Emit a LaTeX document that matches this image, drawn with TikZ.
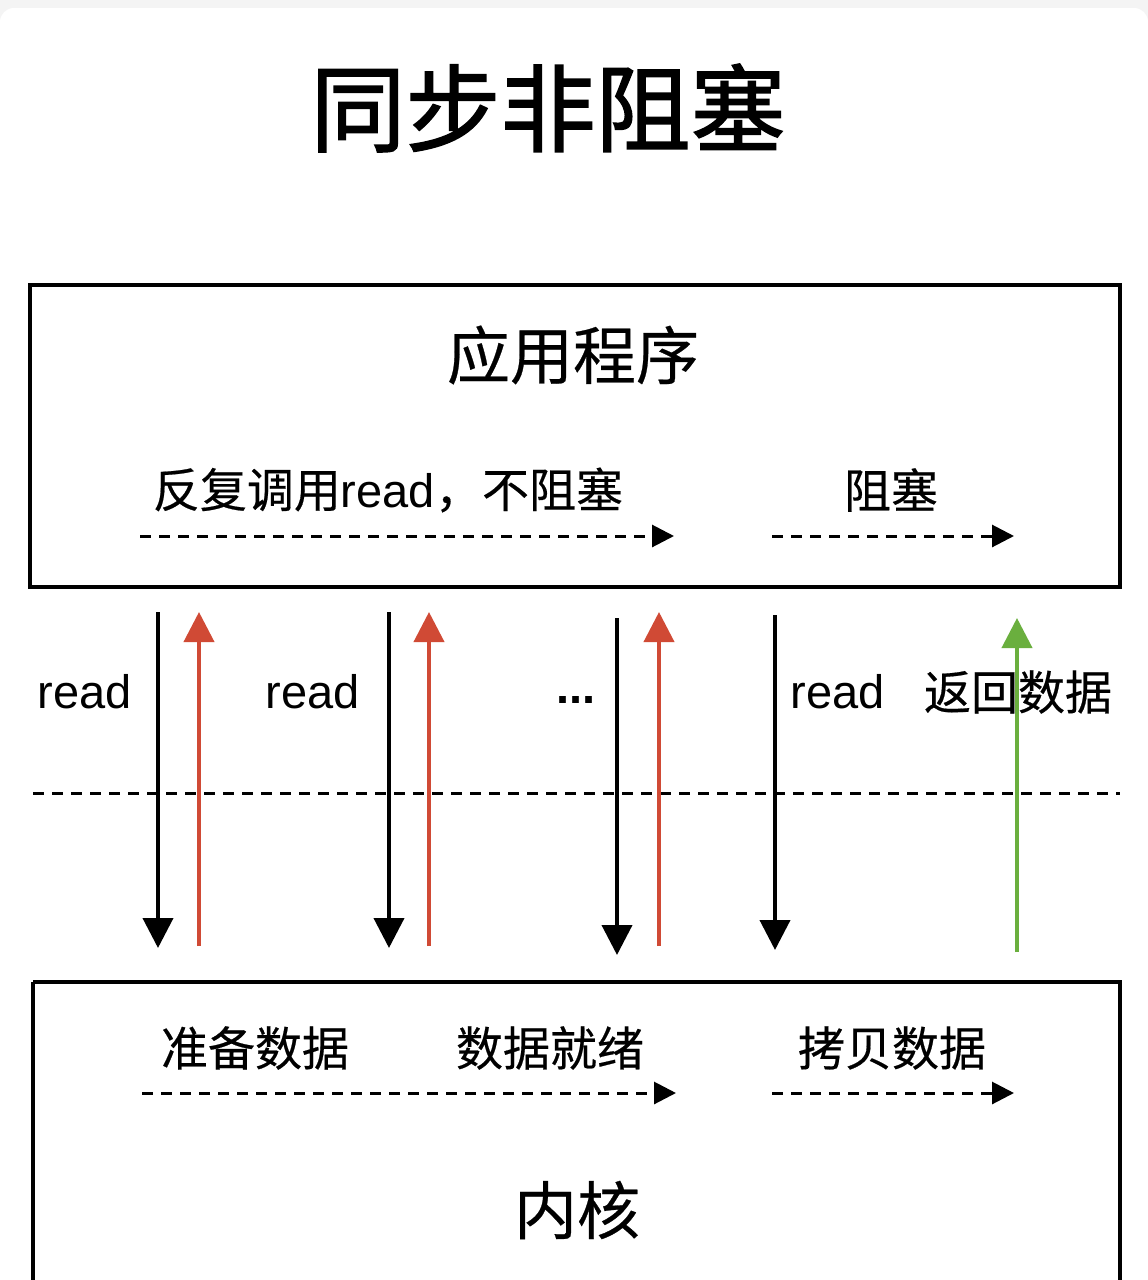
\documentclass[tikz,border=0pt]{standalone}
\usepackage{fontspec}
\setmainfont[FakeBold=0.4]{Noto Sans CJK SC}
\newfontfamily\titlefont[FakeBold=1.6]{Noto Sans CJK SC}
\newfontfamily\lat{Liberation Sans}
\usetikzlibrary{arrows.meta}
\definecolor{redarr}{HTML}{D04A35}
\definecolor{greenarr}{HTML}{6AAF3E}
\definecolor{bggray}{HTML}{F4F4F4}
\tikzset{
  frame/.style={draw=black,line width=4pt},
  lbl/.style={inner sep=0pt,anchor=center,font=\fontsize{47}{52}\selectfont},
  midlbl/.style={inner sep=0pt,anchor=center,font=\fontsize{63}{70}\selectfont},
  dashflow/.style={line width=3pt,dash pattern=on 11pt off 8pt,-{Triangle[length=22pt,width=22pt]}},
  callarr/.style={line width=4pt,-{Triangle[length=30pt,width=30pt]}},
  sepline/.style={line width=3pt,dash pattern=on 11pt off 8pt}
}
\begin{document}
\begin{tikzpicture}[x=1pt,y=-1pt]
\useasboundingbox (0,0) rectangle (1148,1280);
\fill[bggray] (0,0) rectangle (1148,1280);
\fill[white,rounded corners=14pt] (0,8) rectangle (1148,1300);
% title
\node[inner sep=0pt,font=\fontsize{95}{100}\titlefont] (title) at (548,108) {同步非阻塞};
% application box
\draw[frame] (30,285) rectangle (1120,587);
\node[midlbl] (app) at (573,355) {应用程序};
\node[lbl] (poll) at (388,490) {反复调用{\lat read}，不阻塞};
\node[lbl] (blk) at (891,490) {阻塞};
\coordinate (pa1) at (140,536); \coordinate (pa2) at (674,536);
\coordinate (pb1) at (772,536); \coordinate (pb2) at (1014,536);
\draw[dashflow] (pa1) -- (pa2);
\draw[dashflow] (pb1) -- (pb2);
% separator
\coordinate (s1) at (33,793); \coordinate (s2) at (1120,793);
\draw[sepline] (s1) -- (s2);
% vertical arrows
\coordinate (d1t) at (158,612); \coordinate (d1b) at (158,948);
\coordinate (u1b) at (199,946); \coordinate (u1t) at (199,612);
\coordinate (d2t) at (389,612); \coordinate (d2b) at (389,948);
\coordinate (u2b) at (429,946); \coordinate (u2t) at (429,612);
\coordinate (d3t) at (617,618); \coordinate (d3b) at (617,955);
\coordinate (u3b) at (659,946); \coordinate (u3t) at (659,612);
\coordinate (d4t) at (775,615); \coordinate (d4b) at (775,950);
\coordinate (u4b) at (1017,952); \coordinate (u4t) at (1017,618);
\draw[callarr] (d1t) -- (d1b);
\draw[callarr,redarr] (u1b) -- (u1t);
\draw[callarr] (d2t) -- (d2b);
\draw[callarr,redarr] (u2b) -- (u2t);
\draw[callarr] (d3t) -- (d3b);
\draw[callarr,redarr] (u3b) -- (u3t);
\draw[callarr] (d4t) -- (d4b);
\node[lbl,font=\fontsize{47}{52}\selectfont\lat] (r1) at (85,692) {read};
\node[lbl,font=\fontsize{47}{52}\selectfont\lat] (r2) at (313,692) {read};
\node[lbl,font=\fontsize{47}{52}\selectfont\lat\bfseries] (dots) at (576,700) {...};
\node[lbl,font=\fontsize{47}{52}\selectfont\lat] (r4) at (838,692) {read};
\node[lbl] (ret) at (1018,692) {返回数据};
\draw[callarr,greenarr] (u4b) -- (u4t);
% kernel box
\draw[frame] (33,982) -- (1120,982) -- (1120,1300);
\draw[frame] (33,982) -- (33,1300);
\node[lbl] (prep) at (255,1048) {准备数据};
\node[lbl] (ready) at (550,1048) {数据就绪};
\node[lbl] (copy) at (892,1048) {拷贝数据};
\coordinate (ka1) at (142,1093); \coordinate (ka2) at (676,1093);
\coordinate (kb1) at (772,1093); \coordinate (kb2) at (1014,1093);
\draw[dashflow] (ka1) -- (ka2);
\draw[dashflow] (kb1) -- (kb2);
\node[midlbl] (kern) at (577,1210) {内核};
\end{tikzpicture}
\end{document}
